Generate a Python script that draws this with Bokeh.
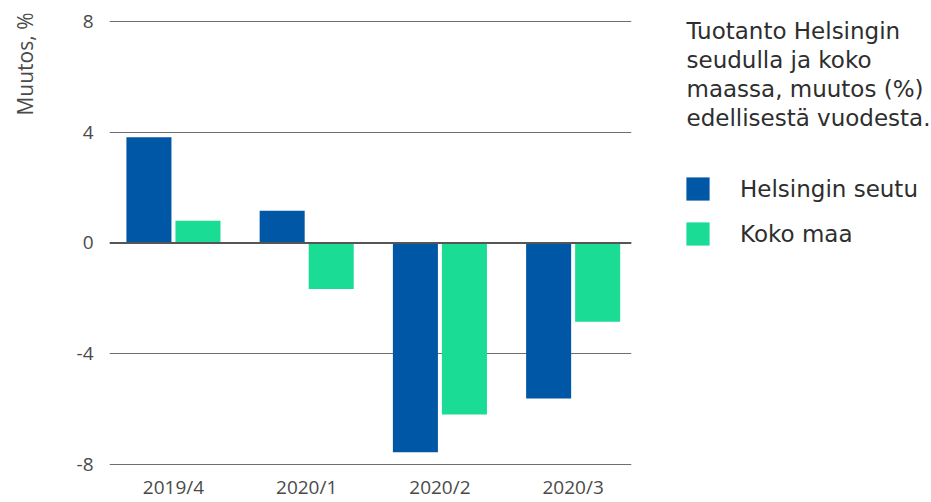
import numpy as np
from bokeh.plotting import figure
from bokeh.layouts import row
from bokeh.models import (ColumnDataSource, Range1d, FixedTicker, Span, Label,
                          Legend, LegendItem)
from bokeh.transform import dodge
from bokeh.embed import file_html
from bokeh.resources import INLINE

# ---- data ----
categories = ["2019/4", "2020/1", "2020/2", "2020/3"]
helsingin_seutu = [3.82, 1.16, -7.56, -5.62]
koko_maa = [0.80, -1.66, -6.20, -2.85]
y_ticks = [-8, -4, 0, 4, 8]
y_tick_labels = ["-8", "-4", "0", "4", "8"]
series_names = ["Helsingin seutu", "Koko maa"]
title_lines = ["Tuotanto Helsingin", "seudulla ja koko",
               "maassa, muutos (%)", "edellisestä vuodesta."]
y_axis_title = "Muutos, %"

BLUE = "#0057A6"
GREEN = "#1BDC95"
TEXT = "#2e2e2e"
TICK = "#4a4a4a"
H = 502
TOP = 13      # frame top (page px)
BOTTOM = 36   # space below frame
FRAME_BOTTOM = H - BOTTOM

src = ColumnDataSource(dict(
    x=list(range(len(categories))),
    hs=helsingin_seutu,
    km=koko_maa,
))


def bare(width):
    f = figure(width=width, height=H, output_backend="svg", toolbar_location=None,
               x_range=Range1d(0, 1), y_range=Range1d(0, 1),
               x_axis_location=None, y_axis_location=None,
               min_border_left=0, min_border_right=0,
               min_border_top=TOP, min_border_bottom=BOTTOM)
    f.outline_line_color = None
    f.grid.visible = False
    return f


# ---- left strip: y-axis title ----
left = bare(40)
left.add_layout(Label(x=24, y=FRAME_BOTTOM - 13, x_units="screen", y_units="screen",
                      text=y_axis_title, angle=np.pi / 2, text_align="right",
                      text_baseline="middle", text_font="Open Sans",
                      text_font_size="21px", text_color=TICK))

# ---- main chart ----
p = figure(width=600, height=H, output_backend="svg", toolbar_location=None,
           x_range=Range1d(-0.48, 3.438), y_range=Range1d(-8.04, 8.288),
           min_border_left=69, min_border_right=9,
           min_border_top=TOP, min_border_bottom=BOTTOM)
p.outline_line_color = None

r1 = p.vbar(x=dodge("x", -0.184), top="hs", bottom=0, width=0.338,
            source=src, fill_color=BLUE, line_color=None)
r2 = p.vbar(x=dodge("x", 0.184), top="km", bottom=0, width=0.338,
            source=src, fill_color=GREEN, line_color=None)

p.xaxis.ticker = FixedTicker(ticks=list(range(len(categories))))
p.xaxis.major_label_overrides = {i: c for i, c in enumerate(categories)}
p.yaxis.ticker = FixedTicker(ticks=y_ticks)
p.yaxis.major_label_overrides = {t: l for t, l in zip(y_ticks, y_tick_labels)}
for ax in (p.xaxis, p.yaxis):
    ax.axis_line_color = None
    ax.major_tick_line_color = None
    ax.minor_tick_line_color = None
    ax.major_tick_out = 0
    ax.major_tick_in = 0
    ax.minor_tick_out = 0
    ax.major_label_text_font = "Open Sans"
    ax.major_label_text_font_size = "19px"
    ax.major_label_text_color = TICK
p.yaxis.major_label_standoff = 16
p.xaxis.major_label_standoff = 8

p.xgrid.grid_line_color = None
p.ygrid.ticker = FixedTicker(ticks=y_ticks)
p.ygrid.grid_line_color = "#6e6e6e"
p.ygrid.grid_line_width = 1

p.add_layout(Span(location=0, dimension="width", line_color="#555555",
                  line_width=2))

# ---- right side: title text and legend ----
side = bare(291)
baselines = [31, 60, 89, 118]
for line, b in zip(title_lines, baselines):
    side.add_layout(Label(x=46, y=FRAME_BOTTOM - b, x_units="screen",
                          y_units="screen", text=line, text_align="left",
                          text_baseline="alphabetic", text_font="DejaVu Sans",
                          text_font_size="23px", text_color=TEXT))

g1 = side.vbar(x="x", top="hs", width=0.3, source=src, fill_color=BLUE,
               line_color=None, visible=False)
g2 = side.vbar(x="x", top="km", width=0.3, source=src, fill_color=GREEN,
               line_color=None, visible=False)
legend = Legend(items=[LegendItem(label=series_names[0], renderers=[g1]),
                       LegendItem(label=series_names[1], renderers=[g2])],
                location=(43, FRAME_BOTTOM - 249), orientation="vertical",
                glyph_width=29, glyph_height=29, label_standoff=28,
                spacing=16, padding=0, margin=0,
                label_text_font="DejaVu Sans", label_text_font_size="23px",
                label_text_color=TEXT, border_line_color=None,
                background_fill_alpha=0, inactive_fill_alpha=0)
side.add_layout(legend)

layout = row(left, p, side, spacing=0)
open("out.html", "w").write(file_html(layout, INLINE))
